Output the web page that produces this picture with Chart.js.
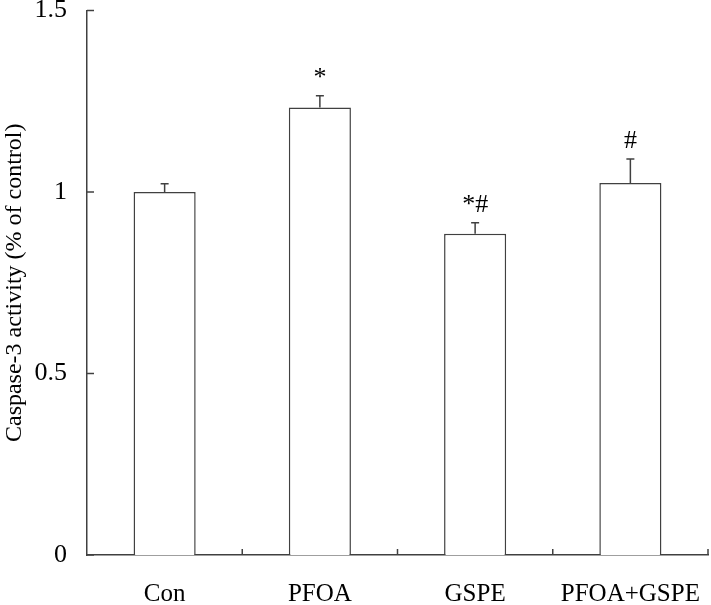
<!DOCTYPE html>
<html>
<head>
<meta charset="utf-8">
<script src="https://cdn.jsdelivr.net/npm/chart.js@4"></script>
<style>
    html, body { margin: 0; padding: 0; background: #fff; }
    #wrap { width: 711px; height: 605px; }
</style>
</head>
<body>
<div id="wrap"><canvas id="chart" width="711" height="605"></canvas></div>
<script>
// Data
const groups = ['Con', 'PFOA', 'GSPE', 'PFOA+GSPE'];
const activity = [1.0, 1.233, 0.885, 1.025];
const errors = [0.023, 0.032, 0.03, 0.066];
const marks = ['', '*', '*#', '#'];
const yTicks = [0, 0.5, 1, 1.5];

const FONT = "'Liberation Serif', 'Times New Roman', serif";
const LINE = '#404040';

// draws error bars, inward ticks and significance marks
const extras = {
    id: 'extras',
    afterDatasetsDraw(chart) {
        const ctx = chart.ctx;
        const x = chart.scales.x;
        const y = chart.scales.y;
        const area = chart.chartArea;
        ctx.save();
        ctx.strokeStyle = LINE;
        ctx.lineWidth = 1.5;

        // error bars (upper half only)
        activity.forEach((v, i) => {
            const cx = x.getPixelForValue(i);
            const top = y.getPixelForValue(v);
            const cap = y.getPixelForValue(v + errors[i]);
            ctx.beginPath();
            ctx.moveTo(cx, top);
            ctx.lineTo(cx, cap);
            ctx.moveTo(cx - 4, cap);
            ctx.lineTo(cx + 4, cap);
            ctx.stroke();
        });

        // y ticks pointing into the plot
        yTicks.forEach(t => {
            const py = y.getPixelForValue(t);
            ctx.beginPath();
            ctx.moveTo(area.left, py);
            ctx.lineTo(area.left + 7, py);
            ctx.stroke();
        });

        // category separators on x axis
        for (let i = 1; i <= groups.length; i++) {
            const px = x.getPixelForValue(i - 0.5);
            ctx.beginPath();
            ctx.moveTo(px, area.bottom);
            ctx.lineTo(px, area.bottom - 6);
            ctx.stroke();
        }

        // significance marks
        ctx.fillStyle = '#000';
        ctx.font = '26px ' + FONT;
        ctx.textAlign = 'center';
        ctx.textBaseline = 'alphabetic';
        marks.forEach((m, i) => {
            if (!m) return;
            const cx = x.getPixelForValue(i);
            const cap = y.getPixelForValue(activity[i] + errors[i]);
            ctx.fillText(m, cx, cap - 11);
        });
        ctx.restore();
    }
};

new Chart(document.getElementById('chart'), {
    type: 'bar',
    data: {
        labels: groups,
        datasets: [{
            data: activity,
            backgroundColor: '#fff',
            borderColor: LINE,
            borderWidth: 1.5,
            barPercentage: 0.4,
            categoryPercentage: 1
        }]
    },
    options: {
        responsive: false,
        animation: false,
        layout: { padding: { left: 0, right: 3, top: 10.5, bottom: 0 } },
        plugins: {
            legend: { display: false },
            tooltip: { enabled: false }
        },
        scales: {
            x: {
                grid: { display: false, drawTicks: false },
                border: { display: true, color: LINE, width: 1.5 },
                ticks: { color: '#000', font: { family: FONT, size: 25 }, padding: 24, maxRotation: 0 },
                afterFit: s => {
                    s.height = 50;
                    s.paddingLeft = 0;
                    s.paddingRight = 0;
                }
            },
            y: {
                min: 0,
                max: 1.5,
                grid: { display: false, drawTicks: false },
                border: { display: true, color: LINE, width: 1.5 },
                ticks: {
                    stepSize: 0.5,
                    color: '#000',
                    font: { family: FONT, size: 26 },
                    padding: 20,
                    callback: v => String(v)
                },
                title: {
                    display: true,
                    text: 'Caspase-3 activity (% of control)',
                    color: '#000',
                    font: { family: FONT, size: 24 },
                    padding: { top: 0, bottom: 0 }
                },
                afterFit: s => {
                    s.width = 87;
                    s.paddingTop = 0;
                    s.paddingBottom = 0;
                }
            }
        }
    },
    plugins: [extras]
});
</script>
</body>
</html>
